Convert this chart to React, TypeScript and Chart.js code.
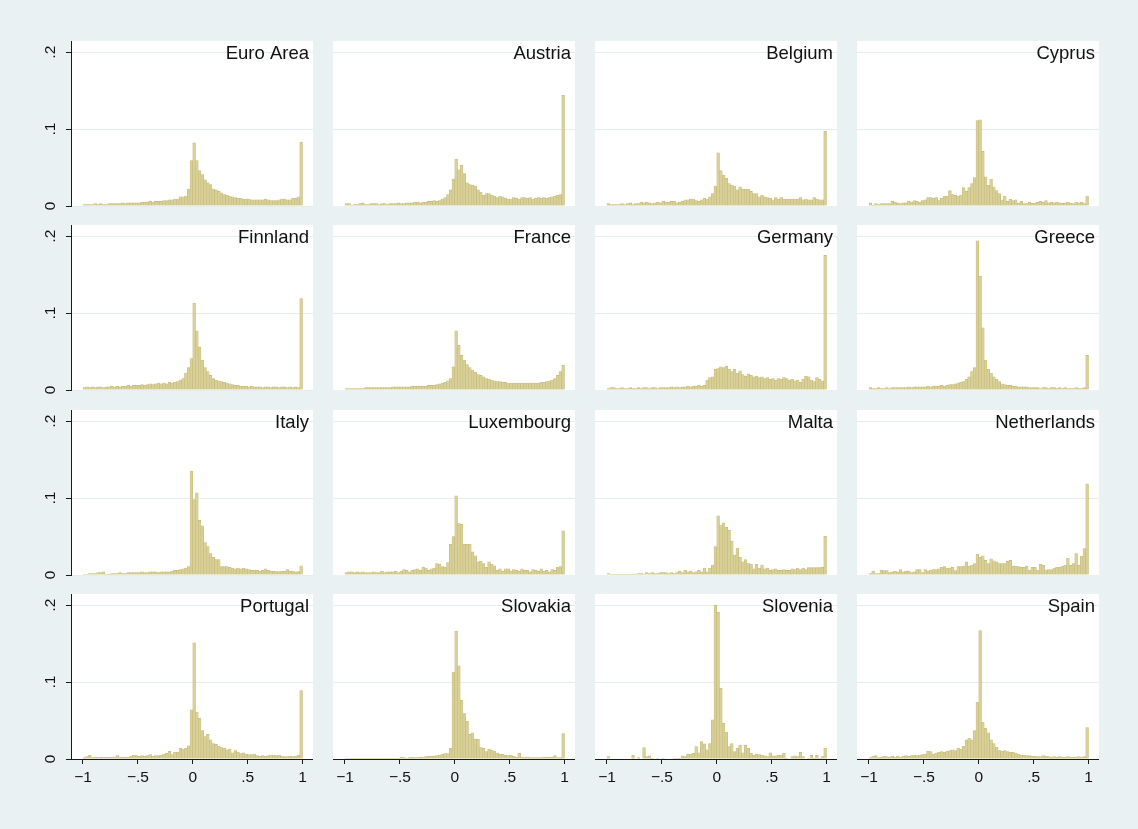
import React, { useEffect, useRef } from "react";
import { Chart, registerables } from "chart.js";

Chart.register(...registerables);
Chart.defaults.font.family = '"Liberation Sans", Arial, Helvetica, sans-serif';

// ---------------- data ----------------
const countries = [
  "Euro Area", "Austria", "Belgium", "Cyprus",
  "Finnland", "France", "Germany", "Greece",
  "Italy", "Luxembourg", "Malta", "Netherlands",
  "Portugal", "Slovakia", "Slovenia", "Spain",
];

// histogram bins: 80 bins of width 0.025 from -1 to 1
const binStart = -1;
const binWidth = 0.025;

const xTickValues = [-1, -0.5, 0, 0.5, 1];
const xTickLabels = ["\u22121", "\u2212.5", "0", ".5", "1"];
const yTickValues = [0, 0.1, 0.2];
const yTickLabels = ["0", ".1", ".2"];

const euroArea = [
  0.002, 0.002, 0.002, 0.002, 0.003, 0.002, 0.003, 0.002, 0.002, 0.003,
  0.003, 0.003, 0.003, 0.003, 0.004, 0.003, 0.004, 0.004, 0.004, 0.004,
  0.004, 0.005, 0.005, 0.005, 0.006, 0.005, 0.006, 0.006, 0.006, 0.007,
  0.007, 0.008, 0.008, 0.009, 0.009, 0.012, 0.012, 0.013, 0.022, 0.059,
  0.082, 0.059, 0.046, 0.041, 0.034, 0.030, 0.028, 0.022, 0.021, 0.019,
  0.017, 0.015, 0.014, 0.013, 0.012, 0.011, 0.010, 0.010, 0.009, 0.009,
  0.009, 0.008, 0.008, 0.008, 0.008, 0.008, 0.009, 0.008, 0.007, 0.007,
  0.007, 0.008, 0.009, 0.009, 0.008, 0.008, 0.010, 0.010, 0.012, 0.083,
];
const austria = [
  0.003, 0.003, 0.001, 0.002, 0.002, 0.003, 0.004, 0.002, 0.002, 0.003,
  0.003, 0.003, 0.002, 0.003, 0.003, 0.002, 0.003, 0.003, 0.003, 0.004,
  0.003, 0.003, 0.004, 0.004, 0.004, 0.005, 0.005, 0.004, 0.005, 0.005,
  0.006, 0.006, 0.007, 0.006, 0.007, 0.009, 0.011, 0.015, 0.021, 0.035,
  0.061, 0.047, 0.053, 0.042, 0.030, 0.028, 0.027, 0.026, 0.021, 0.018,
  0.014, 0.016, 0.016, 0.014, 0.013, 0.011, 0.013, 0.012, 0.010, 0.009,
  0.009, 0.011, 0.010, 0.009, 0.011, 0.011, 0.010, 0.011, 0.009, 0.010,
  0.011, 0.010, 0.011, 0.010, 0.011, 0.012, 0.013, 0.014, 0.015, 0.144,
];
const belgium = [
  0.003, 0.002, 0.002, 0.002, 0.002, 0.003, 0.002, 0.003, 0.004, 0.002,
  0.003, 0.003, 0.005, 0.004, 0.005, 0.004, 0.003, 0.004, 0.005, 0.004,
  0.006, 0.005, 0.005, 0.006, 0.006, 0.004, 0.005, 0.006, 0.008, 0.008,
  0.009, 0.009, 0.007, 0.006, 0.008, 0.010, 0.009, 0.012, 0.016, 0.026,
  0.069, 0.046, 0.040, 0.036, 0.029, 0.027, 0.026, 0.021, 0.025, 0.022,
  0.022, 0.022, 0.019, 0.016, 0.016, 0.012, 0.014, 0.012, 0.011, 0.010,
  0.008, 0.011, 0.009, 0.011, 0.009, 0.009, 0.009, 0.009, 0.009, 0.009,
  0.011, 0.008, 0.009, 0.008, 0.008, 0.011, 0.009, 0.008, 0.008, 0.097,
];
const cyprus = [
  0.004, 0.001, 0.003, 0.002, 0.003, 0.003, 0.003, 0.003, 0.006, 0.005,
  0.004, 0.003, 0.004, 0.004, 0.006, 0.005, 0.007, 0.006, 0.005, 0.007,
  0.008, 0.011, 0.011, 0.010, 0.011, 0.007, 0.010, 0.013, 0.013, 0.020,
  0.015, 0.014, 0.013, 0.014, 0.024, 0.019, 0.024, 0.029, 0.037, 0.111,
  0.112, 0.071, 0.038, 0.027, 0.035, 0.025, 0.020, 0.016, 0.008, 0.013,
  0.006, 0.009, 0.007, 0.008, 0.0035, 0.006, 0.003, 0.003, 0.005, 0.0035,
  0.004, 0.005, 0.006, 0.005, 0.007, 0.004, 0.005, 0.004, 0.005, 0.004,
  0.0035, 0.004, 0.005, 0.0035, 0.003, 0.005, 0.004, 0.005, 0.003, 0.013,
];
const finnland = [
  0.003, 0.004, 0.003, 0.004, 0.003, 0.004, 0.004, 0.003, 0.004, 0.004,
  0.005, 0.004, 0.005, 0.004, 0.005, 0.005, 0.006, 0.005, 0.006, 0.006,
  0.006, 0.007, 0.006, 0.007, 0.008, 0.007, 0.008, 0.009, 0.008, 0.009,
  0.008, 0.010, 0.009, 0.010, 0.011, 0.013, 0.015, 0.022, 0.029, 0.041,
  0.113, 0.077, 0.056, 0.039, 0.029, 0.024, 0.019, 0.015, 0.013, 0.012,
  0.011, 0.010, 0.009, 0.008, 0.007, 0.006, 0.006, 0.005, 0.005, 0.005,
  0.004, 0.005, 0.004, 0.004, 0.004, 0.003, 0.004, 0.004, 0.003, 0.004,
  0.004, 0.003, 0.004, 0.004, 0.003, 0.004, 0.003, 0.004, 0.003, 0.119,
];
const france = [
  0.002, 0.002, 0.002, 0.002, 0.002, 0.002, 0.002, 0.003, 0.003, 0.003,
  0.003, 0.003, 0.003, 0.003, 0.003, 0.003, 0.003, 0.004, 0.004, 0.004,
  0.004, 0.004, 0.004, 0.004, 0.005, 0.005, 0.005, 0.005, 0.005, 0.005,
  0.006, 0.006, 0.006, 0.007, 0.008, 0.009, 0.010, 0.012, 0.015, 0.030,
  0.077, 0.058, 0.045, 0.039, 0.033, 0.029, 0.026, 0.023, 0.020, 0.019,
  0.017, 0.015, 0.014, 0.013, 0.012, 0.011, 0.011, 0.010, 0.010, 0.009,
  0.009, 0.009, 0.009, 0.009, 0.009, 0.009, 0.009, 0.009, 0.009, 0.009,
  0.009, 0.010, 0.010, 0.011, 0.012, 0.013, 0.015, 0.019, 0.024, 0.032,
];
const germany = [
  0.002, 0.003, 0.003, 0.002, 0.002, 0.003, 0.002, 0.002, 0.003, 0.002,
  0.002, 0.003, 0.002, 0.003, 0.003, 0.002, 0.003, 0.003, 0.002, 0.003,
  0.003, 0.003, 0.003, 0.004, 0.003, 0.004, 0.003, 0.004, 0.004, 0.005,
  0.004, 0.005, 0.005, 0.006, 0.005, 0.006, 0.013, 0.016, 0.017, 0.027,
  0.028, 0.030, 0.029, 0.031, 0.027, 0.024, 0.027, 0.022, 0.025, 0.020,
  0.018, 0.021, 0.019, 0.017, 0.018, 0.016, 0.017, 0.015, 0.016, 0.014,
  0.015, 0.013, 0.015, 0.014, 0.016, 0.015, 0.013, 0.014, 0.012, 0.013,
  0.010, 0.014, 0.018, 0.017, 0.013, 0.011, 0.016, 0.014, 0.012, 0.175,
];
const greece = [
  0.003, 0.002, 0.002, 0.003, 0.002, 0.002, 0.003, 0.002, 0.003, 0.003,
  0.003, 0.003, 0.003, 0.003, 0.004, 0.003, 0.004, 0.004, 0.004, 0.004,
  0.004, 0.005, 0.004, 0.005, 0.005, 0.005, 0.006, 0.005, 0.006, 0.007,
  0.007, 0.008, 0.009, 0.010, 0.011, 0.014, 0.017, 0.024, 0.029, 0.194,
  0.148, 0.081, 0.039, 0.027, 0.022, 0.017, 0.014, 0.011, 0.008, 0.007,
  0.006, 0.006, 0.005, 0.005, 0.004, 0.004, 0.004, 0.004, 0.003, 0.003,
  0.003, 0.003, 0.002, 0.003, 0.003, 0.002, 0.003, 0.003, 0.002, 0.003,
  0.002, 0.003, 0.002, 0.002, 0.002, 0.003, 0.002, 0.002, 0.003, 0.045,
];
const italy = [
  0.001, 0.001, 0.002, 0.002, 0.002, 0.003, 0.003, 0.004, 0.001, 0.001,
  0.002, 0.002, 0.002, 0.003, 0.002, 0.002, 0.003, 0.003, 0.003, 0.003,
  0.003, 0.004, 0.003, 0.003, 0.004, 0.004, 0.004, 0.003, 0.004, 0.004,
  0.004, 0.004, 0.005, 0.006, 0.006, 0.007, 0.008, 0.009, 0.011, 0.135,
  0.098, 0.107, 0.071, 0.064, 0.042, 0.037, 0.028, 0.023, 0.020, 0.020,
  0.011, 0.011, 0.011, 0.010, 0.009, 0.008, 0.009, 0.008, 0.009, 0.008,
  0.007, 0.006, 0.0065, 0.006, 0.005, 0.006, 0.008, 0.006, 0.005, 0.0048,
  0.0043, 0.0043, 0.0048, 0.0048, 0.007, 0.0048, 0.005, 0.004, 0.0043, 0.012,
];
const luxembourg = [
  0.003, 0.004, 0.004, 0.003, 0.004, 0.003, 0.004, 0.003, 0.003, 0.003,
  0.004, 0.003, 0.003, 0.005, 0.003, 0.004, 0.004, 0.004, 0.005, 0.003,
  0.005, 0.007, 0.006, 0.004, 0.006, 0.007, 0.008, 0.006, 0.010, 0.009,
  0.006, 0.008, 0.009, 0.015, 0.014, 0.011, 0.010, 0.016, 0.040, 0.050,
  0.103, 0.067, 0.066, 0.040, 0.040, 0.040, 0.030, 0.025, 0.017, 0.018,
  0.015, 0.010, 0.017, 0.014, 0.012, 0.006, 0.008, 0.005, 0.008, 0.008,
  0.005, 0.007, 0.006, 0.005, 0.008, 0.006, 0.006, 0.004, 0.007, 0.006,
  0.005, 0.008, 0.005, 0.006, 0.004, 0.007, 0.006, 0.010, 0.011, 0.0575,
];
const malta = [
  0.002, 0.001, 0.001, 0.001, 0.001, 0.001, 0.001, 0.001, 0.001, 0.001,
  0.001, 0.002, 0.002, 0.001, 0.003, 0.002, 0.003, 0.002, 0.002, 0.003,
  0.003, 0.003, 0.002, 0.003, 0.002, 0.003, 0.005, 0.003, 0.006, 0.004,
  0.005, 0.003, 0.004, 0.006, 0.004, 0.009, 0.004, 0.009, 0.013, 0.037,
  0.077, 0.065, 0.068, 0.062, 0.058, 0.044, 0.026, 0.035, 0.023, 0.017,
  0.020, 0.015, 0.014, 0.008, 0.014, 0.009, 0.013, 0.008, 0.009, 0.006,
  0.007, 0.008, 0.006, 0.006, 0.007, 0.006, 0.006, 0.008, 0.007, 0.009,
  0.007, 0.009, 0.007, 0.0096, 0.0096, 0.0096, 0.0096, 0.0096, 0.010, 0.0505,
];
const netherlands = [
  0.002, 0.005, 0.002, 0.002, 0.0065, 0.0056, 0.0056, 0.003, 0.004, 0.005,
  0.004, 0.007, 0.004, 0.005, 0.005, 0.003, 0.004, 0.007, 0.007, 0.003,
  0.007, 0.005, 0.0065, 0.007, 0.007, 0.008, 0.010, 0.011, 0.009, 0.009,
  0.010, 0.0056, 0.011, 0.011, 0.0116, 0.017, 0.0116, 0.013, 0.015, 0.027,
  0.023, 0.025, 0.019, 0.015, 0.021, 0.0185, 0.017, 0.015, 0.015, 0.015,
  0.0177, 0.019, 0.0116, 0.0116, 0.011, 0.010, 0.010, 0.0116, 0.0065, 0.010,
  0.010, 0.0065, 0.014, 0.013, 0.0065, 0.007, 0.007, 0.009, 0.010, 0.010,
  0.0116, 0.013, 0.022, 0.0125, 0.015, 0.028, 0.0125, 0.0246, 0.0345, 0.1185,
];
const portugal = [
  0.0017, 0.003, 0.0052, 0.0017, 0.0026, 0.0026, 0.0022, 0.0026, 0.0026, 0.0022,
  0.0026, 0.0026, 0.0043, 0.0026, 0.0022, 0.0026, 0.0026, 0.0035, 0.0052, 0.0043,
  0.0035, 0.0043, 0.0035, 0.0043, 0.0057, 0.0035, 0.0043, 0.0043, 0.0052, 0.0065,
  0.0078, 0.010, 0.0057, 0.0087, 0.0087, 0.014, 0.013, 0.014, 0.017, 0.064,
  0.151, 0.061, 0.053, 0.037, 0.029, 0.032, 0.025, 0.020, 0.019, 0.0165,
  0.015, 0.014, 0.012, 0.013, 0.008, 0.011, 0.009, 0.007, 0.008, 0.0065,
  0.0057, 0.0057, 0.0065, 0.0043, 0.0035, 0.0043, 0.0035, 0.0043, 0.0052, 0.0052,
  0.0043, 0.0052, 0.0035, 0.003, 0.003, 0.0035, 0.003, 0.0035, 0.0052, 0.089,
];
const slovakia = [
  0.001, 0.001, 0.001, 0.001, 0.001, 0.001, 0.001, 0.001, 0.001, 0.001,
  0.001, 0.001, 0.001, 0.001, 0.001, 0.001, 0.001, 0.001, 0.001, 0.001,
  0.0026, 0.0017, 0.0013, 0.0017, 0.0022, 0.0017, 0.0017, 0.0022, 0.0026, 0.003,
  0.0035, 0.0035, 0.004, 0.0043, 0.0052, 0.0065, 0.007, 0.007, 0.014, 0.113,
  0.166, 0.121, 0.0765, 0.059, 0.049, 0.032, 0.034, 0.026, 0.026, 0.015,
  0.014, 0.0096, 0.0126, 0.0117, 0.0104, 0.0078, 0.006, 0.006, 0.005, 0.0043,
  0.005, 0.0035, 0.0026, 0.0078, 0.0026, 0.0017, 0.0026, 0.0017, 0.0017, 0.0017,
  0.0017, 0.0017, 0.0026, 0.0026, 0.0026, 0.0026, 0.0043, 0.0017, 0.0017, 0.033,
];
const slovenia = [
  0.003, 0, 0, 0, 0, 0, 0, 0, 0, 0.005,
  0, 0.002, 0, 0.015, 0.003, 0.004, 0.001, 0, 0.001, 0,
  0.001, 0, 0, 0, 0.001, 0.001, 0.001, 0.004, 0.003, 0.0065,
  0.0065, 0.0074, 0.016, 0.008, 0.0226, 0.0196, 0.012, 0.02, 0.051, 0.2,
  0.191, 0.092, 0.0465, 0.035, 0.016, 0.02, 0.0096, 0.014, 0.018, 0.008,
  0.018, 0.014, 0.0074, 0.005, 0.0065, 0.0057, 0.005, 0.004, 0.003, 0.008,
  0.004, 0.004, 0.005, 0.005, 0.0074, 0.001, 0, 0.003, 0.004, 0.003,
  0.0087, 0.003, 0, 0.001, 0.0048, 0.001, 0.0048, 0.001, 0.003, 0.014,
];
const spain = [
  0.0017, 0.0035, 0.0043, 0.0017, 0.0026, 0.0035, 0.003, 0.0026, 0.0035, 0.0026,
  0.0035, 0.0026, 0.0035, 0.0043, 0.0035, 0.0043, 0.0052, 0.0043, 0.0052, 0.0057,
  0.0065, 0.010, 0.0096, 0.0065, 0.0078, 0.0087, 0.0096, 0.0087, 0.010, 0.011,
  0.012, 0.011, 0.014, 0.013, 0.0165, 0.025, 0.027, 0.025, 0.037, 0.074,
  0.167, 0.048, 0.040, 0.034, 0.025, 0.020, 0.0152, 0.011, 0.0104, 0.011,
  0.0096, 0.0087, 0.0087, 0.0078, 0.0065, 0.0052, 0.0048, 0.0043, 0.0043, 0.0035,
  0.0035, 0.003, 0.003, 0.0043, 0.0035, 0.003, 0.0026, 0.003, 0.0022, 0.003,
  0.0026, 0.0022, 0.003, 0.0026, 0.0022, 0.0026, 0.003, 0.0026, 0.003, 0.041,
];

const seriesByCountry = [
  euroArea, austria, belgium, cyprus,
  finnland, france, germany, greece,
  italy, luxembourg, malta, netherlands,
  portugal, slovakia, slovenia, spain,
];

// ---------------- layout & style ----------------
const PAGE_W = 1138;
const PAGE_H = 829;
const PANEL_LEFT = [71, 333, 595, 857];
const PANEL_TOP = [41, 225, 410, 594];
const PANEL_W = 242;
const PANEL_H = 165;
const Y_AXIS_W = 40;
const X_AXIS_H = 35;
const X_MIN = -1.1093;
const X_MAX = 1.0957;
const Y_MAX = 0.21456;

const BG = "rgb(233,241,243)";
const GRID = "rgb(228,237,240)";
const AXIS = "#1a1a1a";
const TEXT = "#111111";
const BAR_FILL = "rgb(216,208,152)";
const BAR_EDGE = "rgb(196,186,118)";
const TICK_FONT = 15.5;
const TITLE_FONT = 18.5;

function panelDecor(name: string) {
  return {
    id: "panelDecor",
    beforeDraw(chart: any) {
      const { ctx, chartArea: a } = chart;
      ctx.save();
      ctx.fillStyle = "#ffffff";
      ctx.fillRect(a.left, a.top, a.right - a.left, a.bottom - a.top);
      ctx.restore();
    },
    afterDatasetsDraw(chart: any) {
      const { ctx, chartArea: a } = chart;
      ctx.save();
      ctx.fillStyle = TEXT;
      ctx.font = `${TITLE_FONT}px "Liberation Sans", Arial, sans-serif`;
      ctx.textAlign = "right";
      ctx.textBaseline = "alphabetic";
      ctx.fillText(name, a.right - 4, a.top + 17.5);
      ctx.restore();
    },
  };
}

function Panel({ name, values, row, col }: { name: string; values: number[]; row: number; col: number }) {
  const ref = useRef<HTMLCanvasElement | null>(null);
  const yW = col === 0 ? Y_AXIS_W : 0;
  const xH = row === 3 ? X_AXIS_H : col === 0 ? 10 : 0;
  const left = PANEL_LEFT[col] - yW;
  const top = PANEL_TOP[row];
  const width = PANEL_W + yW;
  const height = PANEL_H + xH;

  useEffect(() => {
    if (!ref.current) return;
    const points = values.map((v, i) => ({ x: binStart + binWidth * (i + 0.5), y: v }));
    const showX = row === 3;
    const showY = col === 0;
    const chart = new Chart(ref.current, {
      type: "bar",
      data: {
        datasets: [
          {
            data: points as any,
            backgroundColor: BAR_FILL,
            borderColor: BAR_EDGE,
            borderWidth: 0.6,
            barPercentage: 1,
            categoryPercentage: 1,
            grouped: false,
          } as any,
        ],
      },
      options: {
        animation: false,
        responsive: false,
        maintainAspectRatio: false,
        events: [],
        layout: { padding: 0 },
        plugins: {
          legend: { display: false },
          tooltip: { enabled: false },
          title: { display: false },
        },
        scales: {
          x: {
            type: "linear",
            min: X_MIN,
            max: X_MAX,
            offset: false,
            bounds: "data",
            grid: {
              display: showX,
              drawOnChartArea: false,
              drawTicks: true,
              tickLength: 5,
              tickColor: AXIS,
              offset: false,
            },
            border: { display: showX, color: AXIS, width: 1, z: 1 },
            ticks: {
              display: showX,
              autoSkip: false,
              minRotation: 0,
              maxRotation: 0,
              padding: 4,
              color: TEXT,
              font: { size: TICK_FONT },
              callback: (v: any) => {
                const k = xTickValues.indexOf(Number(v));
                return k >= 0 ? xTickLabels[k] : "";
              },
            },
            afterBuildTicks: (s: any) => {
              s.ticks = xTickValues.map((value) => ({ value }));
            },
            afterFit: (s: any) => {
              s.height = xH;
              s.paddingLeft = 0;
              s.paddingRight = 0;
            },
          } as any,
          y: {
            type: "linear",
            min: 0,
            max: Y_MAX,
            bounds: "data",
            grid: {
              display: true,
              color: GRID,
              lineWidth: 1,
              drawTicks: showY,
              tickLength: 5,
              tickColor: AXIS,
            },
            border: { display: showY, color: AXIS, width: 1, z: 1 },
            ticks: {
              display: showY,
              minRotation: 90,
              maxRotation: 90,
              crossAlign: "center",
              padding: 9,
              color: TEXT,
              font: { size: TICK_FONT },
              callback: (v: any) => {
                const k = yTickValues.indexOf(Number(v));
                return k >= 0 ? yTickLabels[k] : "";
              },
            },
            afterBuildTicks: (s: any) => {
              s.ticks = yTickValues.map((value) => ({ value }));
            },
            afterFit: (s: any) => {
              s.width = yW;
              s.paddingTop = 0;
              s.paddingBottom = 0;
            },
          } as any,
        },
      },
      plugins: [panelDecor(name)],
    });
    return () => chart.destroy();
  }, []);

  return (
    <canvas
      ref={ref}
      width={width}
      height={height}
      style={{ position: "absolute", left, top, width, height, display: "block" }}
    />
  );
}

export default function App() {
  return (
    <div
      style={{
        position: "absolute",
        left: 0,
        top: 0,
        width: PAGE_W,
        height: PAGE_H,
        background: BG,
        overflow: "hidden",
      }}
    >
      {countries.map((name, k) => (
        <Panel key={name} name={name} values={seriesByCountry[k]} row={Math.floor(k / 4)} col={k % 4} />
      ))}
    </div>
  );
}
